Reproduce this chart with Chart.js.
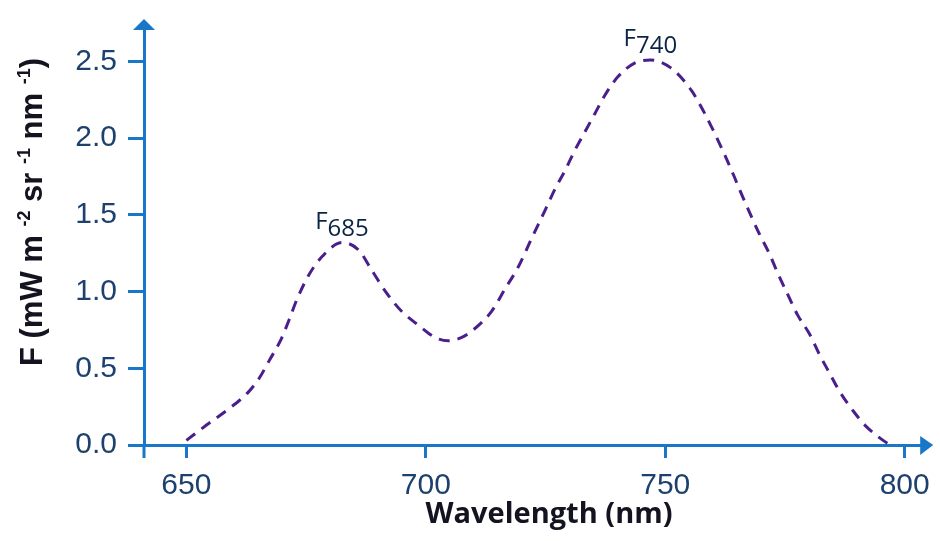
<!DOCTYPE html>
<html><head><meta charset="utf-8">
<script src="https://cdn.jsdelivr.net/npm/chart.js@4.4.1/dist/chart.umd.min.js"></script>
<style>html,body{margin:0;padding:0;background:#fff;}#wrap{width:940px;height:541px;}</style>
</head><body><div id="wrap"><canvas id="c" width="940" height="541"></canvas></div>
<script>
// ---- data ----
const wavelength = [650.0, 654.2, 658.6, 662.8, 665.3, 667.3, 669.8, 671.5, 673.1, 675.6, 678.4, 682.5,
  686.0, 688.7, 691.6, 695.0, 698.5, 702.0, 704.7, 707.4, 709.5, 713.7, 716.6, 719.3, 722.0, 724.9,
  727.0, 729.1, 731.1, 733.2, 735.3, 737.4, 740.1, 743.6, 746.9, 751.1, 755.5, 758.1, 760.2, 762.3,
  764.0, 765.6, 767.7, 769.6, 771.7, 773.5, 775.6, 777.6, 780.2, 782.2, 784.3, 786.4, 789.3, 792.0,
  795.5, 797.0];
const fluorescence = [0.03, 0.13, 0.23, 0.34, 0.44, 0.55, 0.69, 0.82, 0.95, 1.11, 1.23, 1.32,
  1.27, 1.14, 1.00, 0.87, 0.78, 0.70, 0.68, 0.70, 0.74, 0.87, 1.02, 1.16, 1.34, 1.53,
  1.67, 1.79, 1.92, 2.04, 2.16, 2.28, 2.40, 2.49, 2.51, 2.46, 2.31, 2.17, 2.04, 1.90,
  1.78, 1.66, 1.51, 1.38, 1.25, 1.12, 0.98, 0.85, 0.72, 0.59, 0.47, 0.35, 0.22, 0.12,
  0.03, 0.00];
const xTicks = [650, 700, 750, 800];
const yTicks = [0, 0.5, 1.0, 1.5, 2.0, 2.5];
const xTitle = 'Wavelength (nm)';
const yTitleParts = [['F (mW m ', false], ['-2', true], [' sr ', false], ['-1', true], [' nm ', false], ['-1', true], [')', false]];
const peakMain = ['F', 'F'];
const peakSub = ['685', '740'];
const peakX = [682.5, 746.9];
const peakY = [1.32, 2.51];

// ---- styles ----
const AXIS = '#1877c9';
const TICKTXT = '#1d416f';
const LINE = '#4a1f8c';
const TITLE = '#141420';

const decor = {
  id: 'decor',
  afterDraw(chart) {
    const ctx = chart.ctx, a = chart.chartArea;
    const xs = chart.scales.x, ys = chart.scales.y;
    ctx.save();
    // y axis extension below x axis
    ctx.strokeStyle = AXIS; ctx.lineWidth = 3;
    ctx.beginPath(); ctx.moveTo(a.left, a.bottom); ctx.lineTo(a.left, a.bottom + 13); ctx.stroke();
    // arrowheads
    ctx.fillStyle = AXIS;
    ctx.beginPath();
    ctx.moveTo(a.left - 11, a.top + 1); ctx.lineTo(a.left + 11, a.top + 1); ctx.lineTo(a.left, a.top - 10);
    ctx.closePath(); ctx.fill();
    ctx.beginPath();
    ctx.moveTo(a.right - 1, a.bottom - 9); ctx.lineTo(a.right - 1, a.bottom + 10); ctx.lineTo(a.right + 12, a.bottom);
    ctx.closePath(); ctx.fill();

    // x title
    ctx.fillStyle = TITLE;
    ctx.font = 'bold 29px "Open Sans", "Liberation Sans", sans-serif';
    ctx.textAlign = 'center'; ctx.textBaseline = 'alphabetic';
    ctx.fillText(xTitle, 549, 523);

    // y title with superscripts
    const big = 'bold 31px "Liberation Sans", Arial, sans-serif';
    const small = 'bold 18px "Liberation Sans", Arial, sans-serif';
    let total = 0;
    yTitleParts.forEach(p => { ctx.font = p[1] ? small : big; total += ctx.measureText(p[0]).width; });
    ctx.translate(31, 212);
    ctx.rotate(-Math.PI / 2);
    ctx.textAlign = 'left';
    let cx = -total / 2;
    yTitleParts.forEach(p => {
      ctx.font = p[1] ? small : big;
      ctx.fillText(p[0], cx, p[1] ? -1 : 11);
      cx += ctx.measureText(p[0]).width;
    });
    ctx.setTransform(1, 0, 0, 1, 0, 0);

    // peak labels
    ctx.fillStyle = '#0c2444';
    ctx.font = '24px "Open Sans", "Noto Sans", sans-serif';
    ctx.textAlign = 'left';
    for (let i = 0; i < peakMain.length; i++) {
      const px = xs.getPixelForValue(peakX[i]);
      const py = ys.getPixelForValue(peakY[i]);
      const w1 = ctx.measureText(peakMain[i]).width;
      const w2 = ctx.measureText(peakSub[i]).width;
      const sx = px - (w1 + w2) / 2;
      ctx.fillText(peakMain[i], sx, py - 14);
      ctx.fillText(peakSub[i], sx + w1, py - 7);
    }
    ctx.restore();
  }
};

new Chart(document.getElementById('c'), {
  type: 'line',
  data: {
    datasets: [{
      data: wavelength.map((w, i) => ({ x: w, y: fluorescence[i] })),
      borderColor: LINE,
      borderWidth: 3,
      borderDash: [11, 8],
      pointRadius: 0,
      fill: false,
      cubicInterpolationMode: 'monotone'
    }]
  },
  options: {
    responsive: false,
    animation: false,
    devicePixelRatio: 1,
    layout: { padding: { top: 23, right: 15, left: 0, bottom: 0 } },
    plugins: { legend: { display: false }, tooltip: { enabled: false } },
    scales: {
      x: {
        type: 'linear',
        min: 641.15, max: 803.45,
        afterBuildTicks: s => { s.ticks = xTicks.map(v => ({ value: v })); },
        afterFit: s => { s.height = 96; },
        grid: { drawOnChartArea: false, drawTicks: true, tickLength: 13, color: AXIS, lineWidth: 3 },
        border: { display: true, color: AXIS, width: 3 },
        ticks: {
          autoSkip: false, maxRotation: 0, padding: 10, color: TICKTXT,
          font: { family: '"Liberation Sans", Arial, sans-serif', size: 30 },
          callback: v => String(v)
        }
      },
      y: {
        type: 'linear',
        min: 0, max: 2.712,
        afterBuildTicks: s => { s.ticks = yTicks.map(v => ({ value: v })); },
        afterFit: s => { s.width = 144; },
        grid: { drawOnChartArea: false, drawTicks: true, tickLength: 16, color: AXIS, lineWidth: 3 },
        border: { display: true, color: AXIS, width: 3 },
        ticks: {
          padding: 11, color: TICKTXT,
          font: { family: '"Liberation Sans", Arial, sans-serif', size: 30 },
          callback: v => Number(v).toFixed(1)
        }
      }
    }
  },
  plugins: [decor]
});
</script>
</body></html>
